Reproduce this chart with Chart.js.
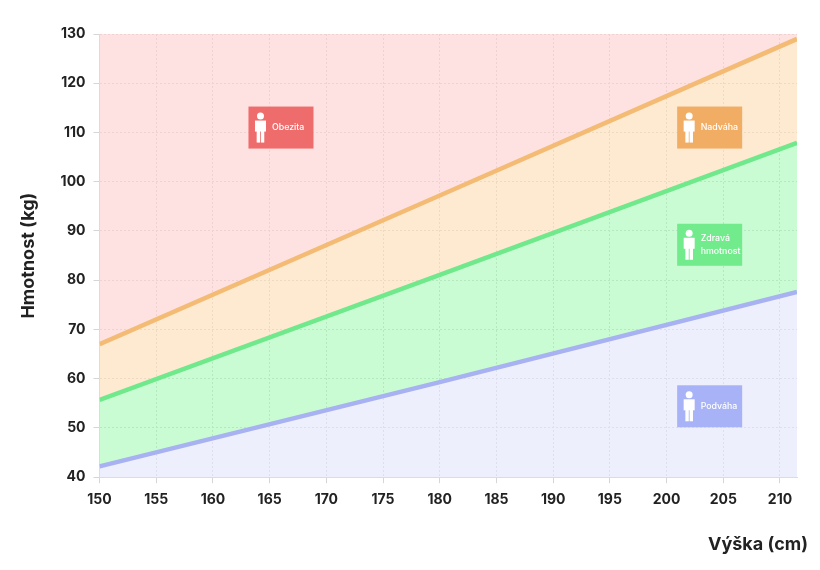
<!DOCTYPE html>
<html>
<head>
<meta charset="utf-8">
<script src="https://cdn.jsdelivr.net/npm/chart.js@4.4.1/dist/chart.umd.min.js"></script>
<style>
  html, body { margin: 0; padding: 0; background: #fff; }
  #wrap { width: 820px; height: 570px; }
</style>
</head>
<body>
<div id="wrap"><canvas id="chart"></canvas></div>
<script>
// heights (cm) where the boundary lines were read
const heights = [150, 180, 211.5];
// boundary weights (kg)
const underLine = [42.2, 59.3, 77.6];
const healthyLine = [55.7, 81.1, 107.9];
const overLine = [67.0, 97.2, 129.0];

const xTicks = [150, 155, 160, 165, 170, 175, 180, 185, 190, 195, 200, 205, 210];

// zone labels, anchored at (height, weight)
const zoneNames = [['Obezita'], ['Nadváha'], ['Zdravá', 'hmotnost'], ['Podváha']];
const zoneX = [166, 203.8, 203.8, 203.8];
const zoneY = [111, 111, 87.2, 54.4];
const zoneColors = ['#ef6c6c', '#f2ad64', '#71eb8c', '#a7b3f6'];

const FONT = 'Inter, "Open Sans", sans-serif';

function pts(vals) {
  return heights.map((h, i) => ({ x: h, y: vals[i] }));
}

function drawPerson(ctx, cx, top, h) {
  const s = h / 30;
  ctx.fillStyle = '#fff';
  ctx.beginPath();
  ctx.arc(cx, top + 3.5 * s, 3.5 * s, 0, Math.PI * 2);
  ctx.fill();
  // torso + arms
  ctx.fillRect(cx - 5.5 * s, top + 8 * s, 11 * s, 11 * s);
  // legs
  ctx.fillRect(cx - 3.8 * s, top + 18 * s, 3.4 * s, 12 * s);
  ctx.fillRect(cx + 0.4 * s, top + 18 * s, 3.4 * s, 12 * s);
}

const zoneLabels = {
  id: 'zoneLabels',
  afterDatasetsDraw(chart) {
    const { ctx, scales } = chart;
    const w = 65, h = 42;
    zoneNames.forEach((lines, i) => {
      const cx = scales.x.getPixelForValue(zoneX[i]);
      const cy = scales.y.getPixelForValue(zoneY[i]);
      ctx.save();
      ctx.fillStyle = zoneColors[i];
      ctx.fillRect(cx - w / 2, cy - h / 2, w, h);
      drawPerson(ctx, cx - w / 2 + 12, cy - 15, 30);
      ctx.fillStyle = '#fff';
      ctx.font = '500 8.8px ' + FONT;
      ctx.textAlign = 'left';
      ctx.textBaseline = 'middle';
      const lh = 13;
      lines.forEach((t, j) => {
        ctx.fillText(t, cx - w / 2 + 23.5, cy + (j - (lines.length - 1) / 2) * lh);
      });
      ctx.restore();
    });
  }
};

// x axis title sits a bit past the plot's right edge
const xTitle = {
  id: 'xTitle',
  afterDraw(chart) {
    const { ctx } = chart;
    ctx.save();
    ctx.fillStyle = '#222';
    ctx.font = '700 18px ' + FONT;
    ctx.textAlign = 'right';
    ctx.textBaseline = 'middle';
    ctx.fillText('Výška (cm)', chart.width - 12, 545);
    ctx.restore();
  }
};

const lineDs = (data, color, fill, bg) => ({
  data: pts(data),
  borderColor: color,
  borderWidth: 4.5,
  pointRadius: 0,
  tension: 0,
  fill: fill,
  backgroundColor: bg,
});

new Chart(document.getElementById('chart'), {
  type: 'line',
  data: {
    datasets: [
      lineDs(overLine, '#f4bb74', 'end', 'rgba(253, 205, 205, 0.6)'),
      lineDs(healthyLine, '#6fe98b', '-1', 'rgba(253, 218, 178, 0.6)'),
      lineDs(underLine, '#a8b2f2', '-1', 'rgba(150, 250, 170, 0.5)'),
      { ...lineDs(underLine, 'rgba(0,0,0,0)', 'start', 'rgba(225, 228, 250, 0.6)'), borderWidth: 0 },
    ],
  },
  options: {
    responsive: true,
    maintainAspectRatio: false,
    animation: false,
    layout: { padding: { left: 18, right: 23, top: 34, bottom: 54 } },
    plugins: {
      legend: { display: false },
      tooltip: { enabled: false },
    },
    scales: {
      x: {
        type: 'linear',
        min: 150,
        max: 211.5,
        afterBuildTicks(scale) {
          scale.ticks = xTicks.map((v) => ({ value: v }));
        },
        ticks: {
          color: '#222',
          font: { family: FONT, size: 14, weight: '700' },
          padding: 8,
        },
        grid: { color: '#d6d6d6', tickLength: 6 },
        border: { color: '#dcdcdc', dash: [2, 2] },
      },
      y: {
        min: 40,
        max: 130,
        ticks: {
          stepSize: 10,
          color: '#222',
          font: { family: FONT, size: 14, weight: '700' },
          padding: 8,
        },
        grid: { color: '#d6d6d6', tickLength: 6 },
        border: { color: '#dcdcdc', dash: [2, 2] },
        title: {
          display: true,
          text: 'Hmotnost (kg)',
          color: '#222',
          font: { family: FONT, size: 18, weight: '700' },
          padding: { top: 0, bottom: 13 },
        },
      },
    },
  },
  plugins: [zoneLabels, xTitle],
});
</script>
</body>
</html>
